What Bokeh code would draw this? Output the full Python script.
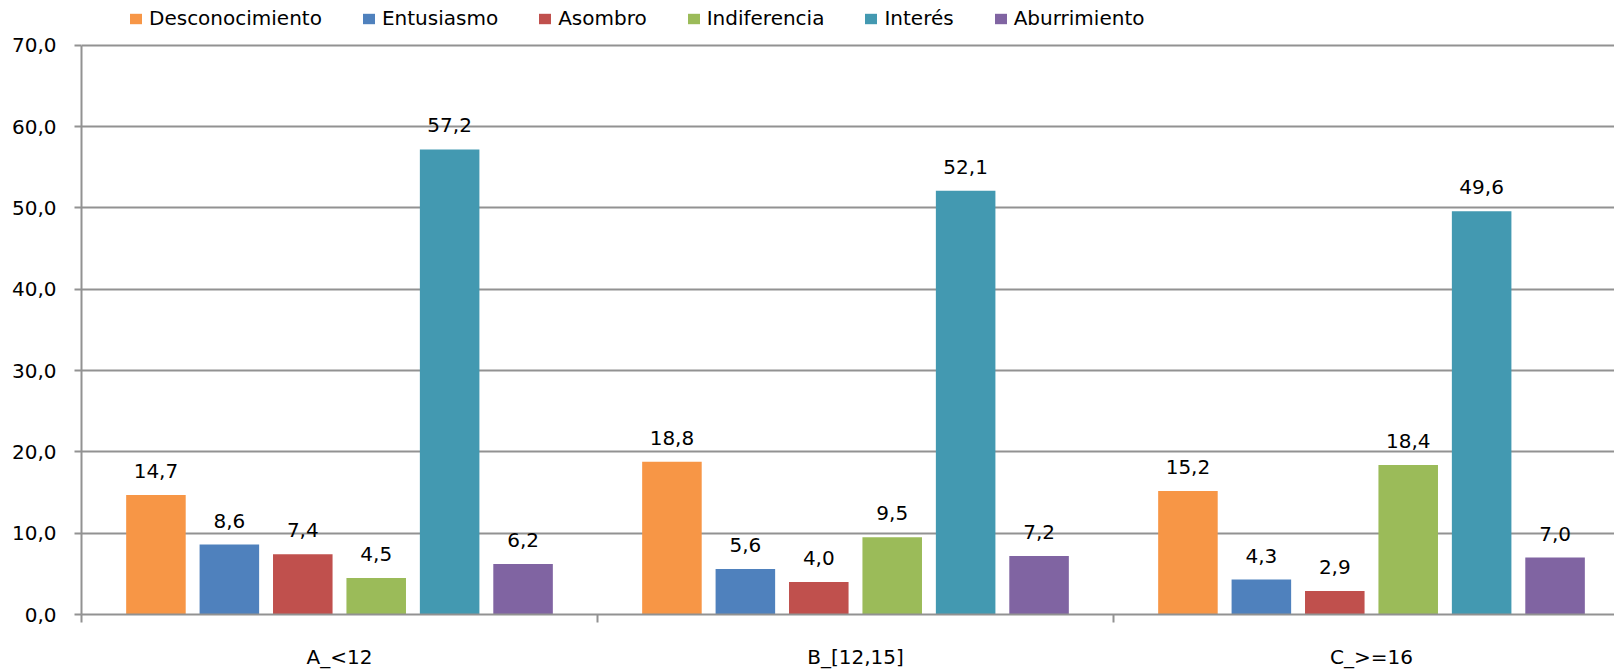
from bokeh.plotting import figure
from bokeh.models import Range1d, FixedTicker, CustomJSTickFormatter, Legend, LegendItem
from bokeh.core.properties import value
from bokeh.embed import file_html
from bokeh.resources import INLINE
from jinja2 import Template

# ---- data ----
categories = ["A_<12", "B_[12,15]", "C_>=16"]
series = ["Desconocimiento", "Entusiasmo", "Asombro", "Indiferencia", "Interés", "Aburrimiento"]
desconocimiento = [14.7, 18.8, 15.2]
entusiasmo = [8.6, 5.6, 4.3]
asombro = [7.4, 4.0, 2.9]
indiferencia = [4.5, 9.5, 18.4]
interes = [57.2, 52.1, 49.6]
aburrimiento = [6.2, 7.2, 7.0]
y_ticks = [0, 10, 20, 30, 40, 50, 60, 70]

values = [desconocimiento, entusiasmo, asombro, indiferencia, interes, aburrimiento]
colors = ["#F79646", "#4F81BD", "#C0504D", "#9BBB59", "#4399B1", "#8064A2"]

FONT = "DejaVu Sans"
GRAY = "#929292"

left_border = 81
frame_w = 1614 - left_border
frame_h = 614
group_px = 516.0
px_per_unit = 8.131
x_end = frame_w / group_px
y_end = frame_h / px_per_unit

bar_w = 0.1154
bar_step = 0.1423

p = figure(frame_width=frame_w, frame_height=frame_h,
           x_range=Range1d(0, x_end), y_range=Range1d(0, y_end),
           output_backend="svg", toolbar_location=None,
           min_border_left=left_border, min_border_right=0, min_border_top=0, min_border_bottom=0)
p.outline_line_color = None
p.background_fill_color = "white"
p.border_fill_color = "white"

items = []
for i, (name, vals, col) in enumerate(zip(series, values, colors)):
    xs = [j + 0.5 + (i - 2.5) * bar_step for j in range(len(categories))]
    r = p.vbar(x=xs, top=vals, width=bar_w, fill_color=col, line_color=None)
    items.append(LegendItem(label=name, renderers=[r]))
    p.text(x=xs, y=vals, text=[f"{v:.1f}".replace(".", ",") for v in vals],
           text_align="center", text_baseline="middle", y_offset=-24,
           text_font=value(FONT), text_font_size="20px", text_color="#000000")

# y axis
p.yaxis.ticker = FixedTicker(ticks=y_ticks, minor_ticks=[])
p.yaxis.formatter = CustomJSTickFormatter(code="return tick.toFixed(1).replace('.', ',');")
p.yaxis.bounds = (0, 70)
p.yaxis.axis_line_color = GRAY
p.yaxis.axis_line_width = 2
p.yaxis.major_tick_line_color = GRAY
p.yaxis.major_tick_line_width = 2
p.yaxis.major_tick_out = 7
p.yaxis.major_tick_in = 0
p.yaxis.minor_tick_line_color = None
p.yaxis.major_label_standoff = 18
p.yaxis.major_label_text_font = FONT
p.yaxis.major_label_text_font_size = "20px"
p.yaxis.major_label_text_color = "#000000"

p.ygrid.ticker = FixedTicker(ticks=y_ticks)
p.ygrid.grid_line_color = GRAY
p.ygrid.grid_line_width = 2
p.xgrid.visible = False

# x axis
p.xaxis.ticker = FixedTicker(ticks=[0.5, 1.5, 2.5], minor_ticks=[0, 1, 2, 3])
p.xaxis.formatter = CustomJSTickFormatter(args=dict(labels=categories),
                                          code="return labels[Math.floor(tick)];")
p.xaxis.axis_line_color = GRAY
p.xaxis.axis_line_width = 2
p.xaxis.major_tick_line_color = None
p.xaxis.major_tick_out = 0
p.xaxis.major_tick_in = 0
p.xaxis.minor_tick_line_color = GRAY
p.xaxis.minor_tick_line_width = 2
p.xaxis.minor_tick_out = 8
p.xaxis.minor_tick_in = 0
p.xaxis.major_label_standoff = 22
p.xaxis.major_label_text_font = FONT
p.xaxis.major_label_text_font_size = "20px"
p.xaxis.major_label_text_color = "#000000"

legend = Legend(items=items, location=(47, frame_h - 30), orientation="horizontal",
                glyph_width=15, glyph_height=13, label_standoff=6, spacing=39,
                padding=0, margin=0, border_line_alpha=0, background_fill_alpha=0,
                label_text_font=FONT, label_text_font_size="20px", label_height=20,
                label_text_color="#000000")
p.add_layout(legend)

template = Template("""{% extends base %}
{% block inner_head %}
{{ super() }}
<style>html, body { overflow: hidden; }</style>
{% endblock %}""")

open("out.html", "w").write(file_html(p, INLINE, template=template))
